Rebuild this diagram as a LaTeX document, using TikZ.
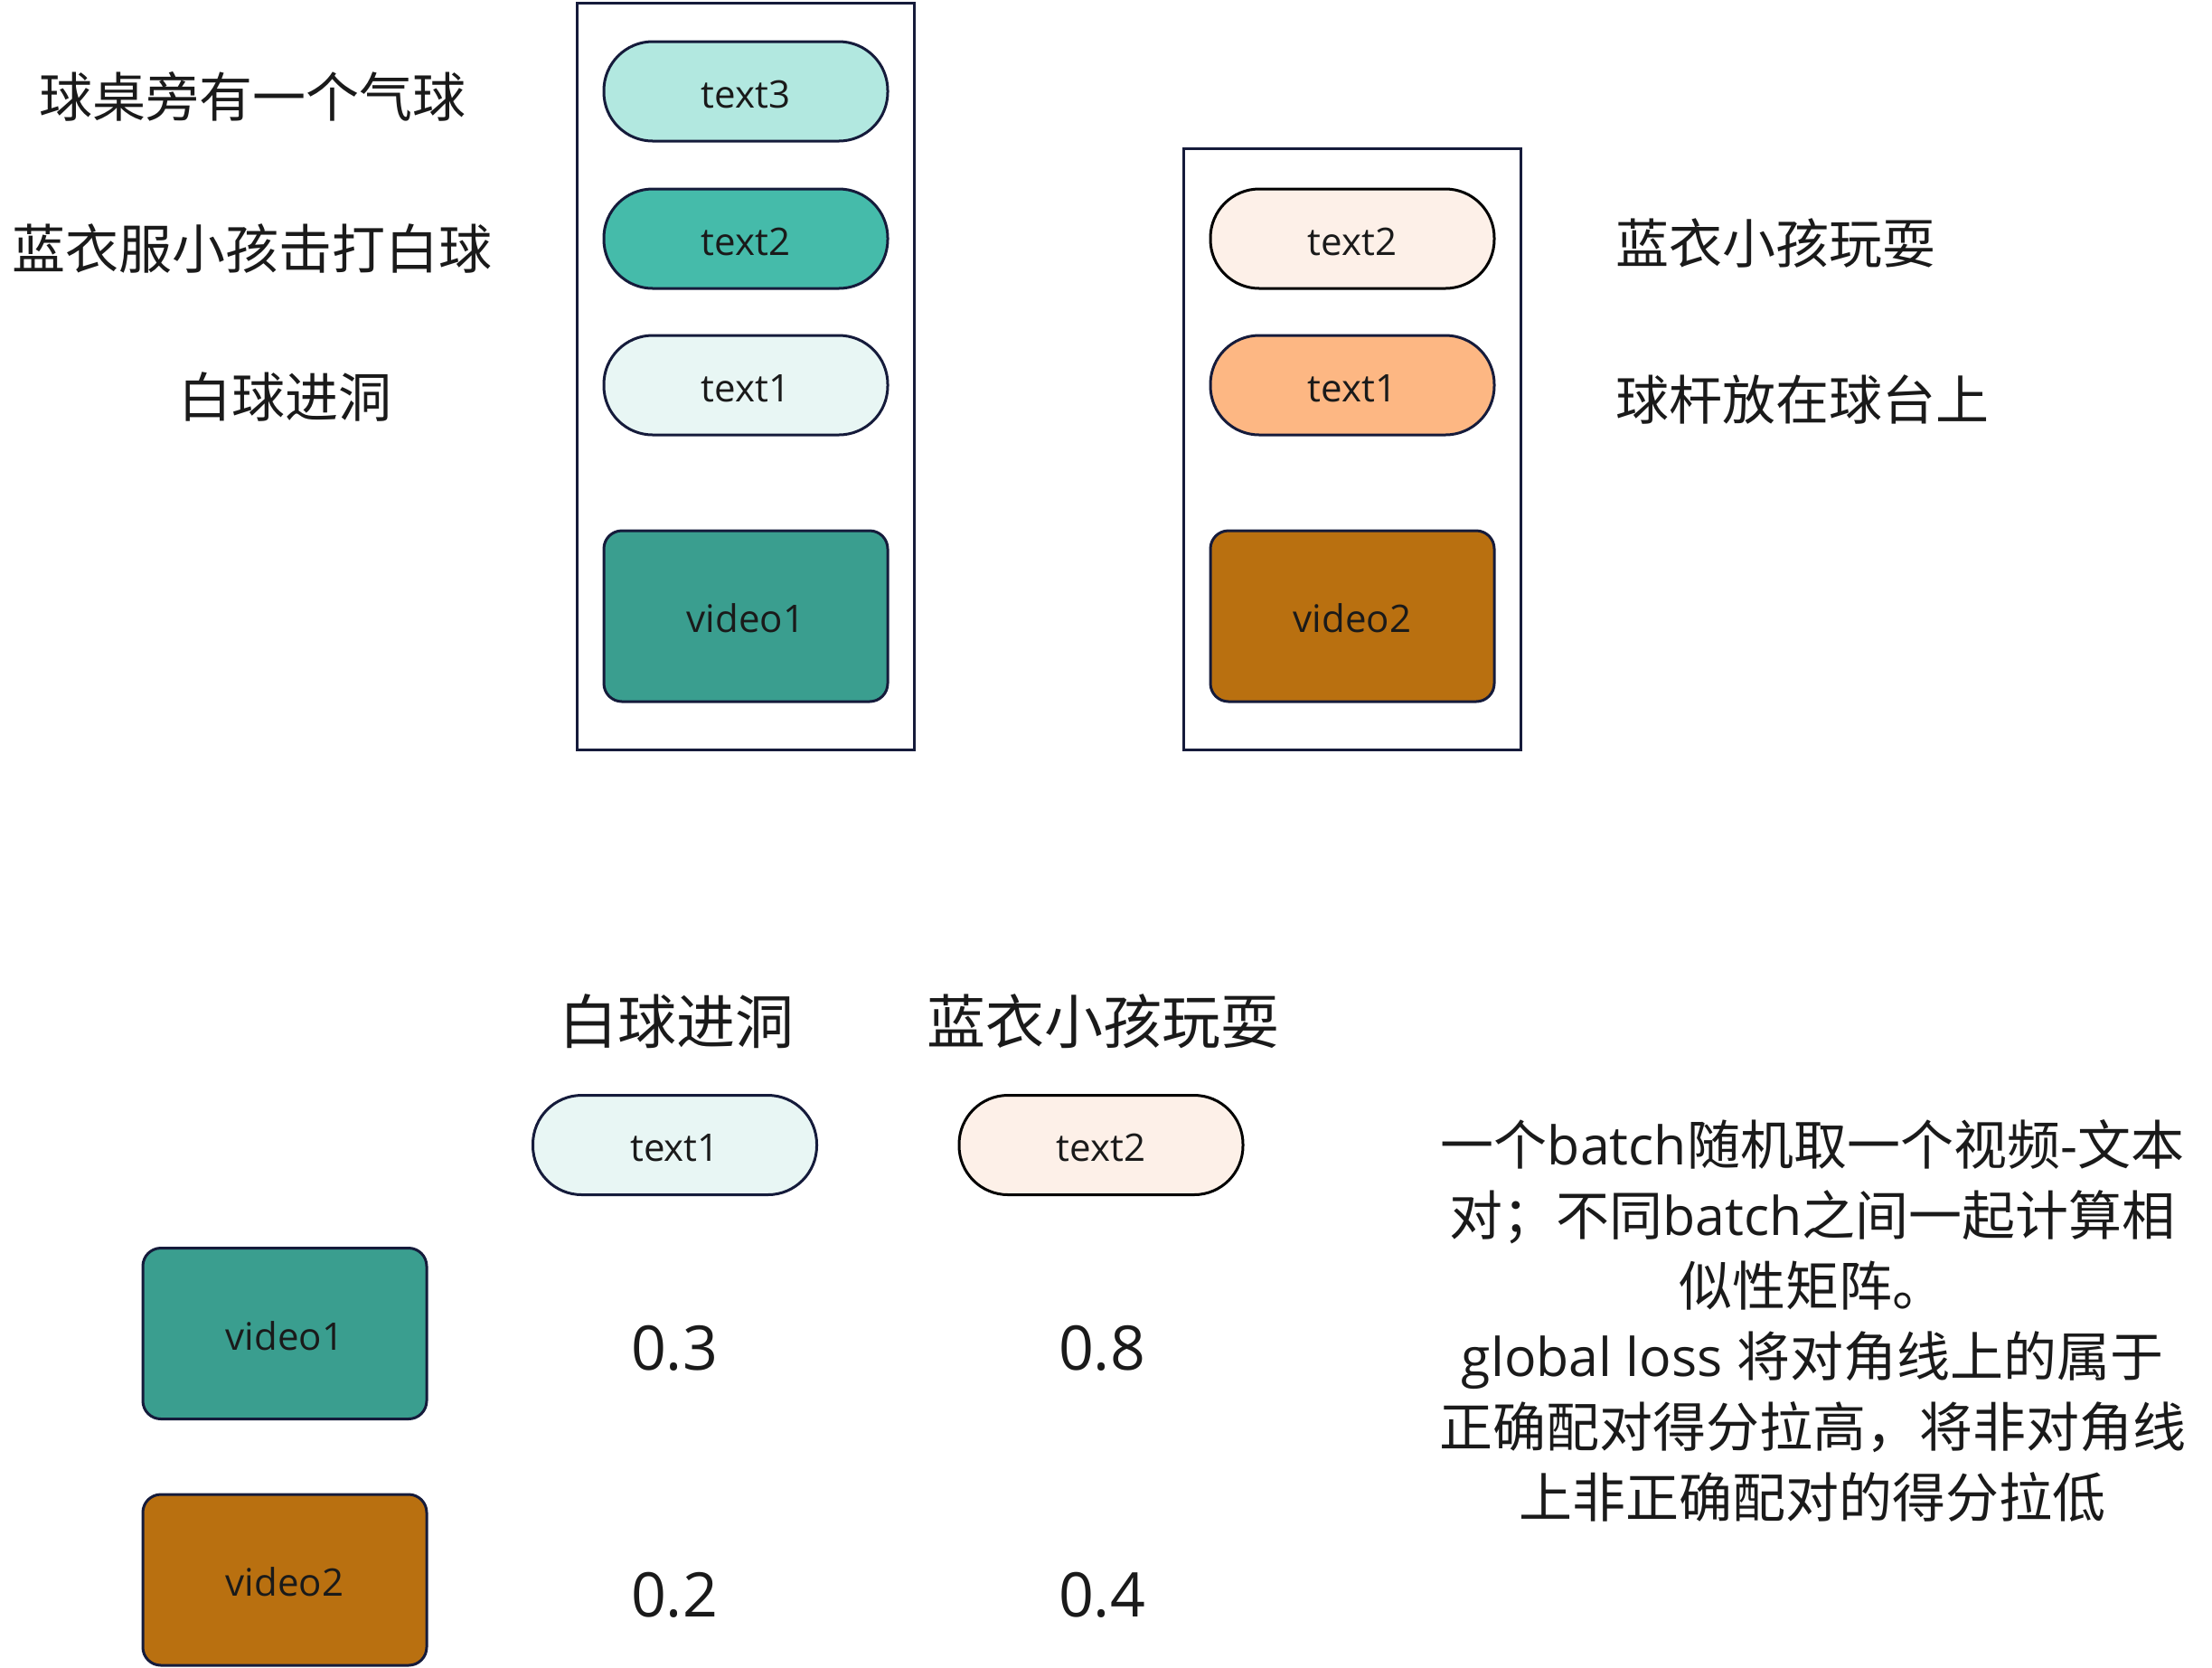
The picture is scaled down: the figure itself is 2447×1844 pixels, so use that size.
\documentclass[tikz,border=0pt]{standalone}
\usepackage{fontspec}
\setmainfont{Open Sans}
\newfontfamily\cjk{Noto Sans CJK SC}
\definecolor{navy}{HTML}{151B3B}
\definecolor{ink}{HTML}{1A1A1A}
\definecolor{aqualight}{HTML}{B2E8E0}
\definecolor{aquamid}{HTML}{45BBAA}
\definecolor{aquapale}{HTML}{E8F6F4}
\definecolor{teal}{HTML}{3A9E8F}
\definecolor{peachpale}{HTML}{FDF0E8}
\definecolor{peach}{HTML}{FDB783}
\definecolor{amber}{HTML}{B97010}
\newcommand\pillfont{\fontsize{21pt}{25pt}\selectfont}
\newcommand\labfont{\cjk\fontsize{29.5pt}{36pt}\selectfont}
\newcommand\headfont{\cjk\fontsize{32.5pt}{38pt}\selectfont}
\newcommand\numfont{\fontsize{34pt}{40pt}\selectfont}
\tikzset{
  pill/.style={draw=navy, line width=1.5pt, rounded corners=27pt,
    minimum width=157pt, minimum height=55pt, inner sep=0pt,
    font=\pillfont, text=ink, text height=18pt, text depth=0pt},
  vid/.style={draw=navy, line width=1.5pt, rounded corners=10pt,
    minimum width=157pt, minimum height=94.5pt, inner sep=0pt,
    font=\pillfont, text=ink, text height=18pt, text depth=0pt},
  frame/.style={draw=navy, line width=1.5pt, inner sep=0pt},
  lab/.style={font=\labfont, text=ink, inner sep=0pt},
  head/.style={font=\headfont, text=ink, inner sep=0pt},
  num/.style={font=\numfont, text=ink, inner sep=0pt},
  para/.style={font=\fontsize{29.5pt}{39pt}\selectfont, text=ink,
    align=center, inner sep=0pt},
}
\begin{document}
\begin{tikzpicture}[x=0.5pt, y=-0.5pt]
\useasboundingbox (0,0) rectangle (2447,1844);
% frames
\node[frame, minimum width=186.5pt, minimum height=413pt] (frameL) at (824.5,416) {};
\node[frame, minimum width=186.5pt, minimum height=332.5pt] (frameR) at (1495.5,496.5) {};
% left group
\node[pill, fill=aqualight] (t3L) at (825,101) {text3};
\node[pill, fill=aquamid] (t2L) at (825,264) {text2};
\node[pill, fill=aquapale] (t1L) at (825,426) {text1};
\node[vid, fill=teal] (v1L) at (825,681.5) {video1};
% right group
\node[pill, fill=peachpale, draw=black] (t2R) at (1496,264) {text2};
\node[pill, fill=peach] (t1R) at (1496,426) {text1};
\node[vid, fill=amber] (v2R) at (1496,681.5) {video2};
% left labels
\node[lab] (l3) at (279.5,107) {球桌旁有一个气球};
\node[lab] (l2) at (279,275) {蓝衣服小孩击打白球};
\node[lab] (l1) at (315,439) {白球进洞};
% right labels
\node[lab, anchor=west] (r2) at (1787,269) {蓝衣小孩玩耍};
\node[lab, anchor=west] (r1) at (1787,442) {球杆放在球台上};
% bottom matrix
\node[head] (h1) at (748,1130) {白球进洞};
\node[head] (h2) at (1220,1130) {蓝衣小孩玩耍};
\node[pill, fill=aquapale] (bt1) at (746.5,1266.5) {text1};
\node[pill, fill=peachpale, draw=black] (bt2) at (1218,1266.5) {text2};
\node[vid, fill=teal] (bv1) at (315,1475) {video1};
\node[vid, fill=amber] (bv2) at (315,1747.5) {video2};
\node[num] (n11) at (746,1491) {0.3};
\node[num] (n12) at (1219,1491) {0.8};
\node[num] (n21) at (746,1764) {0.2};
\node[num] (n22) at (1219,1764) {0.4};
% description
\node[para] (desc) at (2005,1461) {{\cjk 一个}batch{\cjk 随机取一个视频}-{\cjk 文本}\\
{\cjk 对；不同}batch{\cjk 之间一起计算相}\\
{\cjk 似性矩阵。}\\
global loss {\cjk 将对角线上的属于}\\
{\cjk 正确配对得分拉高，将非对角线}\\
{\cjk 上非正确配对的得分拉低}};
\end{tikzpicture}
\end{document}
